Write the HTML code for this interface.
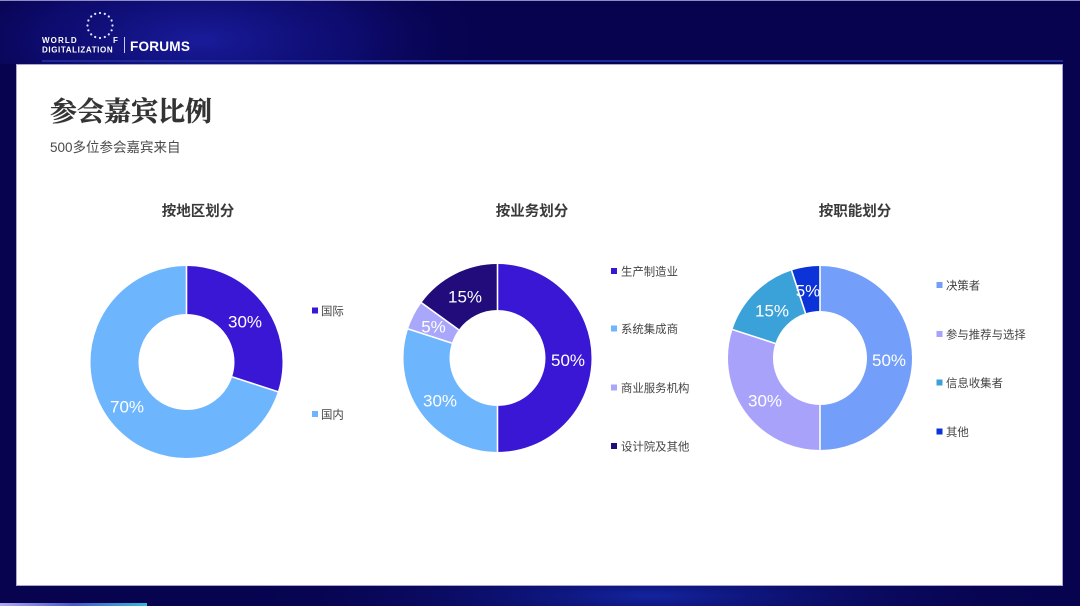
<!DOCTYPE html>
<html>
<head>
<meta charset="utf-8">
<style>
html,body{margin:0;padding:0;}
body{width:1080px;height:606px;overflow:hidden;background:#07034f;font-family:"Liberation Sans","Noto Sans CJK SC",sans-serif;}
svg{display:block;}
</style>
</head>
<body>
<svg width="1080" height="606" viewBox="0 0 1080 606" xmlns="http://www.w3.org/2000/svg">
  <defs>
    <radialGradient id="g1" cx="200" cy="40" r="300" gradientTransform="translate(200,40) scale(1,0.35) translate(-200,-40)" gradientUnits="userSpaceOnUse">
      <stop offset="0" stop-color="#1c20a8" stop-opacity="0.85"/>
      <stop offset="0.55" stop-color="#14148e" stop-opacity="0.45"/>
      <stop offset="1" stop-color="#07034f" stop-opacity="0"/>
    </radialGradient>
    <radialGradient id="g2" cx="650" cy="596" r="420" gradientTransform="translate(650,596) scale(1,0.12) translate(-650,-596)" gradientUnits="userSpaceOnUse">
      <stop offset="0" stop-color="#1528a8" stop-opacity="0.9"/>
      <stop offset="1" stop-color="#07034f" stop-opacity="0"/>
    </radialGradient>
    <linearGradient id="gb" x1="0" x2="1" y1="0" y2="0">
      <stop offset="0" stop-color="#b0a8f4"/>
      <stop offset="0.5" stop-color="#4a58c8"/>
      <stop offset="1" stop-color="#38b6d4"/>
    </linearGradient>
  </defs>
  <rect x="0" y="0" width="1080" height="606" fill="#07034f"/>
  <rect x="0" y="0" width="1080" height="64" fill="url(#g1)"/>
  <rect x="0" y="586" width="1080" height="20" fill="url(#g2)"/>
  <rect x="0" y="0" width="1080" height="1" fill="#8e8cc4"/>
  <rect x="0" y="603" width="147" height="3" fill="url(#gb)"/>

  <!-- logo -->
  <g fill="#ffffff">
    <g fill="#e4e8ff">
      <circle cx="100" cy="13" r="1.1"/><circle cx="104.8" cy="13.9" r="1.1"/><circle cx="108.8" cy="16.5" r="1.1"/>
      <circle cx="111.6" cy="20.5" r="1.1"/><circle cx="112.5" cy="25.5" r="1.1"/><circle cx="111.6" cy="30.3" r="1.1"/>
      <circle cx="108.8" cy="34.4" r="1.1"/><circle cx="104.8" cy="37" r="1.1"/><circle cx="100" cy="38" r="1.1"/>
      <circle cx="95.2" cy="37" r="1.1"/><circle cx="91.2" cy="34.4" r="1.1"/><circle cx="88.4" cy="30.3" r="1.1"/>
      <circle cx="87.5" cy="25.5" r="1.1"/><circle cx="88.4" cy="20.5" r="1.1"/><circle cx="91.2" cy="16.5" r="1.1"/>
      <circle cx="95.2" cy="13.9" r="1.1"/>
    </g>
    <text x="42" y="43" font-size="8" font-weight="700" letter-spacing="1.1">WORLD</text>
    <text x="42" y="52.5" font-size="8" font-weight="700" letter-spacing="0.6">DIGITALIZATION</text>
    <text x="113" y="43" font-size="8" font-weight="700">F</text>
    <rect x="124" y="37" width="1" height="16" fill="#c8ccf0"/>
    <text x="130" y="51" font-size="13.6" font-weight="700" letter-spacing="0.2">FORUMS</text>
  </g>
  <rect x="42" y="60" width="1021" height="2" fill="#1f2a9a"/>

  <!-- panel -->
  <rect x="16.5" y="64.5" width="1046" height="521" fill="#ffffff" stroke="#a9a6d6" stroke-width="1"/>

  <!-- heading -->
  <text x="50" y="121" font-family="'Liberation Serif','Noto Serif CJK SC',serif" font-size="27" font-weight="700" fill="#333333" stroke="#333333" stroke-width="0.4">参会嘉宾比例</text>
  <text x="50" y="152" font-size="13.5" fill="#4a4a4a">500多位参会嘉宾来自</text>

  <!-- chart titles -->
  <g font-size="14.5" font-weight="700" fill="#3a3a3a" text-anchor="middle">
    <text x="198" y="216">按地区划分</text>
    <text x="532" y="216">按业务划分</text>
    <text x="855" y="216">按职能划分</text>
  </g>

  <!-- Chart 1 -->
  <g fill="none" stroke-width="48" transform="rotate(-90 186.5 362)">
    <circle cx="186.5" cy="362" r="72" stroke="#3a17d4" stroke-dasharray="135.72 452.39" stroke-dashoffset="0"/>
    <circle cx="186.5" cy="362" r="72" stroke="#6db6fd" stroke-dasharray="316.67 452.39" stroke-dashoffset="-135.72"/>
  </g>
  <g stroke="#ffffff" stroke-width="1.6">
    <line x1="186.5" y1="314" x2="186.5" y2="265"/>
    <line x1="232.15" y1="376.83" x2="278.8" y2="392"/>
  </g>
  <g fill="#ffffff" font-size="17" text-anchor="middle">
    <text x="245" y="327.5">30%</text>
    <text x="127" y="412.5">70%</text>
  </g>
  <g font-size="11.4" fill="#444444">
    <rect x="312" y="307.5" width="6" height="6" fill="#3a17d4"/>
    <text x="321" y="315">国际</text>
    <rect x="312" y="411" width="6" height="6" fill="#6db6fd"/>
    <text x="321" y="418.5">国内</text>
  </g>

  <!-- Chart 2 -->
  <g fill="none" stroke-width="46" transform="rotate(-90 497.5 358)">
    <circle cx="497.5" cy="358" r="71" stroke="#3a17d4" stroke-dasharray="223.05 446.11" stroke-dashoffset="0"/>
    <circle cx="497.5" cy="358" r="71" stroke="#6db6fd" stroke-dasharray="133.83 446.11" stroke-dashoffset="-223.05"/>
    <circle cx="497.5" cy="358" r="71" stroke="#a9a7fb" stroke-dasharray="22.31 446.11" stroke-dashoffset="-356.88"/>
    <circle cx="497.5" cy="358" r="71" stroke="#220c7c" stroke-dasharray="66.92 446.11" stroke-dashoffset="-379.19"/>
  </g>
  <g stroke="#ffffff" stroke-width="1.6">
    <line x1="497.5" y1="310" x2="497.5" y2="263"/>
    <line x1="497.5" y1="406" x2="497.5" y2="453"/>
    <line x1="451.85" y1="343.17" x2="407.1" y2="328.6"/>
    <line x1="458.67" y1="329.79" x2="420.8" y2="302.3"/>
  </g>
  <g fill="#ffffff" font-size="17" text-anchor="middle">
    <text x="568" y="366">50%</text>
    <text x="440" y="406.5">30%</text>
    <text x="433.5" y="332.5">5%</text>
    <text x="465" y="302.5">15%</text>
  </g>
  <g font-size="11.4" fill="#444444">
    <rect x="611" y="268" width="6" height="6" fill="#3a17d4"/>
    <text x="621" y="275.5">生产制造业</text>
    <rect x="611" y="325.5" width="6" height="6" fill="#6db6fd"/>
    <text x="621" y="333">系统集成商</text>
    <rect x="611" y="384.5" width="6" height="6" fill="#a9a7fb"/>
    <text x="621" y="392">商业服务机构</text>
    <rect x="611" y="443" width="6" height="6" fill="#220c7c"/>
    <text x="621" y="450.5">设计院及其他</text>
  </g>

  <!-- Chart 3 -->
  <g fill="none" stroke-width="45" transform="rotate(-90 820 358)">
    <circle cx="820" cy="358" r="69.5" stroke="#739ef9" stroke-dasharray="218.34 436.68" stroke-dashoffset="0"/>
    <circle cx="820" cy="358" r="69.5" stroke="#a9a2fb" stroke-dasharray="131.0 436.68" stroke-dashoffset="-218.34"/>
    <circle cx="820" cy="358" r="69.5" stroke="#3aa2d8" stroke-dasharray="65.5 436.68" stroke-dashoffset="-349.34"/>
    <circle cx="820" cy="358" r="69.5" stroke="#0b33d8" stroke-dasharray="21.84 436.68" stroke-dashoffset="-414.84"/>
  </g>
  <g stroke="#ffffff" stroke-width="1.6">
    <line x1="820" y1="311" x2="820" y2="265"/>
    <line x1="820" y1="405" x2="820" y2="451"/>
    <line x1="775.3" y1="343.48" x2="731.5" y2="329.2"/>
    <line x1="805.48" y1="313.3" x2="791.3" y2="269.6"/>
  </g>
  <g fill="#ffffff" font-size="17" text-anchor="middle">
    <text x="889" y="366">50%</text>
    <text x="765" y="406.5">30%</text>
    <text x="772" y="316.5">15%</text>
    <text x="808" y="296.5">5%</text>
  </g>
  <g font-size="11.4" fill="#444444">
    <rect x="936.5" y="282" width="6" height="6" fill="#739ef9"/>
    <text x="946" y="289.5">决策者</text>
    <rect x="936.5" y="331" width="6" height="6" fill="#a9a2fb"/>
    <text x="946" y="338.5">参与推荐与选择</text>
    <rect x="936.5" y="379.5" width="6" height="6" fill="#3aa2d8"/>
    <text x="946" y="387">信息收集者</text>
    <rect x="936.5" y="428.5" width="6" height="6" fill="#0b33d8"/>
    <text x="946" y="436">其他</text>
  </g>
</svg>
</body>
</html>
